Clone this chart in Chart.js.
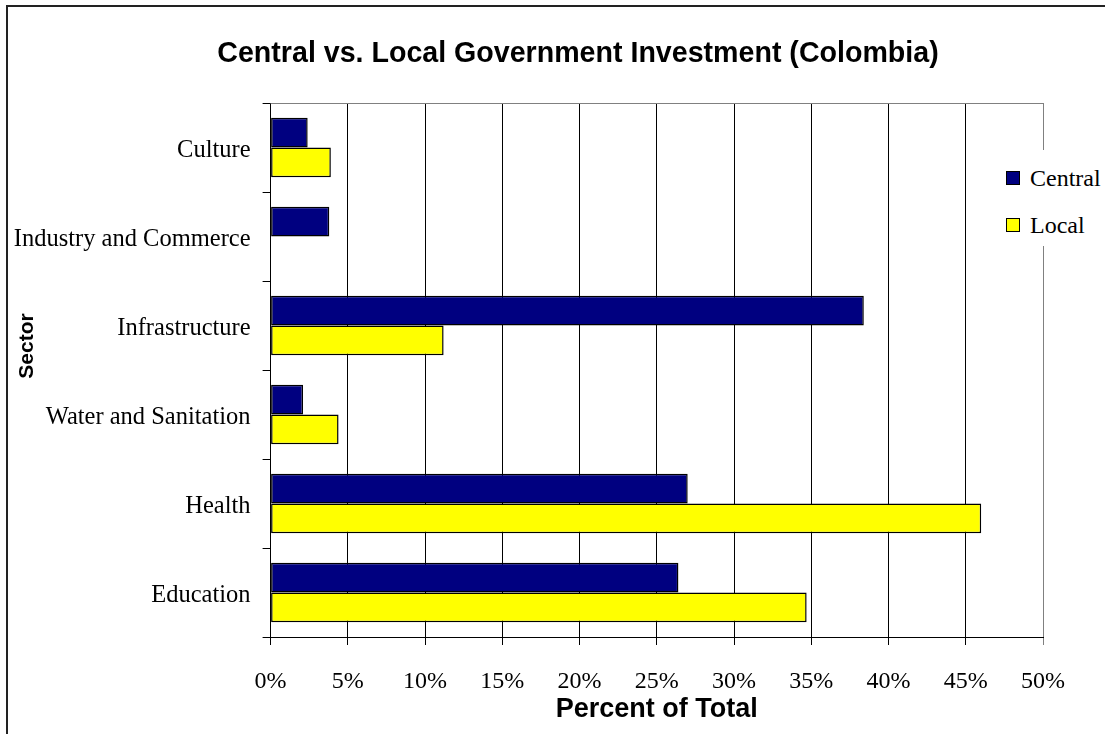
<!DOCTYPE html>
<html>
<head>
<meta charset="utf-8">
<title>Central vs. Local Government Investment (Colombia)</title>
<script src="https://cdn.jsdelivr.net/npm/chart.js@4.4.1/dist/chart.umd.min.js"></script>
<style>
body{margin:0;background:#fff;overflow:hidden}
#wrap{position:relative;width:1105px;height:734px}
#chartTitle{position:absolute;left:78px;width:1000px;top:35px;text-align:center;font:bold 28.6px "Liberation Sans",Arial,sans-serif;line-height:34px;color:#000}
#yTitle{position:absolute;left:-24px;top:334px;width:100px;height:24px;text-align:center;transform:rotate(-90deg);font:bold 21px "Liberation Sans",Arial,sans-serif;line-height:24px;color:#000}
#legend{position:absolute;left:1000px;top:150px;width:105px;height:96px;background:#fff}
.item{position:absolute;left:6px;display:flex;align-items:center;font:24px "Liberation Serif","Times New Roman",serif;line-height:28px;white-space:nowrap;color:#000}
.swatch{width:12px;height:12px;border:1px solid #000;margin-right:10px}
</style>
</head>
<body>
<div id="wrap">
    <canvas id="myChart" width="1105" height="734"></canvas>
    <div id="chartTitle">Central vs. Local Government Investment (Colombia)</div>
    <div id="yTitle">Sector</div>
    <div id="legend"></div>
</div>
<script>
// values, top category first
const sectors = ['Culture', 'Industry and Commerce', 'Infrastructure', 'Water and Sanitation', 'Health', 'Education']
const centralShare = [2.4, 3.8, 38.4, 2.1, 27.0, 26.4]
const localShare = [3.9, null, 11.2, 4.4, 46.0, 34.7]
const seriesNames = ['Central', 'Local']
const seriesColors = ['#000080', '#ffff00']

// black frame round the whole chart (only left/top edges are in the picture)
const framePlugin = {
    id: 'frame',
    beforeDraw(chart){
        const ctx = chart.ctx
        ctx.save()
        ctx.strokeStyle = '#222'
        ctx.lineWidth = 2
        ctx.beginPath()
        ctx.moveTo(7, chart.height)
        ctx.lineTo(7, 6)
        ctx.lineTo(chart.width, 6)
        ctx.stroke()
        ctx.restore()
    }
}

// grey top and right edge of the plot area
const plotBorder = {
    id: 'plotBorder',
    beforeDatasetsDraw(chart){
        const {left, right, top, bottom} = chart.chartArea
        const ctx = chart.ctx
        ctx.save()
        ctx.strokeStyle = '#808080'
        ctx.lineWidth = 1
        ctx.beginPath()
        ctx.moveTo(left, top + 0.5)
        ctx.lineTo(right + 0.5, top + 0.5)
        ctx.lineTo(right + 0.5, bottom)
        ctx.stroke()
        ctx.restore()
    }
}

function createChart(){
    const serif = '"Liberation Serif", "Times New Roman", serif'
    const sans = '"Liberation Sans", Arial, sans-serif'

    return new Chart(document.getElementById('myChart').getContext('2d'), {
        type: 'bar',
        data: {
            labels: sectors,
            datasets: [
                {
                    label: seriesNames[0],
                    data: centralShare,
                    backgroundColor: seriesColors[0],
                    borderColor: '#000',
                    borderWidth: 1.5,
                    borderSkipped: false
                },
                {
                    label: seriesNames[1],
                    data: localShare,
                    backgroundColor: seriesColors[1],
                    borderColor: '#000',
                    borderWidth: 1.5,
                    borderSkipped: false
                }
            ]
        },
        options: {
            indexAxis: 'y',
            responsive: false,
            animation: false,
            devicePixelRatio: 1,
            categoryPercentage: 0.67,
            barPercentage: 1.0,
            layout: {
                padding: {left: 9, right: 62, top: 103, bottom: 4}
            },
            plugins: {
                legend: {display: false},
                title: {display: false},
                tooltip: {enabled: false}
            },
            scales: {
                x: {
                    type: 'linear',
                    min: 0,
                    max: 50,
                    ticks: {
                        stepSize: 5,
                        autoSkip: false,
                        maxRotation: 0,
                        padding: 22,
                        color: '#000',
                        font: {family: serif, size: 24},
                        callback: v => v + '%'
                    },
                    grid: {
                        color: c => (c.tick && c.tick.value === 50) ? '#808080' : '#000',
                        lineWidth: 1,
                        tickLength: 8
                    },
                    border: {color: '#000', width: 1},
                    title: {
                        display: true,
                        text: 'Percent of Total',
                        color: '#000',
                        font: {family: sans, size: 27, weight: 'bold'},
                        padding: {top: 0, bottom: 4}
                    },
                    afterFit: scale => { scale.height = 93 }
                },
                y: {
                    type: 'category',
                    offset: true,
                    ticks: {
                        padding: 12,
                        labelOffset: 3,
                        color: '#000',
                        font: {family: serif, size: 24.5}
                    },
                    grid: {
                        offset: true,
                        drawOnChartArea: false,
                        color: '#000',
                        tickLength: 8
                    },
                    border: {color: '#000', width: 1},
                    title: {display: false},
                    afterFit: scale => { scale.width = 261.6 }
                }
            }
        },
        plugins: [framePlugin, plotBorder]
    })
}

function buildLegend(){
    const box = document.getElementById('legend')
    const tops = [14, 61]
    seriesNames.forEach((name, i) => {
        const item = document.createElement('div')
        item.className = 'item'
        item.style.top = tops[i] + 'px'
        const sw = document.createElement('span')
        sw.className = 'swatch'
        sw.style.background = seriesColors[i]
        item.appendChild(sw)
        item.appendChild(document.createTextNode(name))
        box.appendChild(item)
    })
}

createChart()
buildLegend()
</script>
</body>
</html>
